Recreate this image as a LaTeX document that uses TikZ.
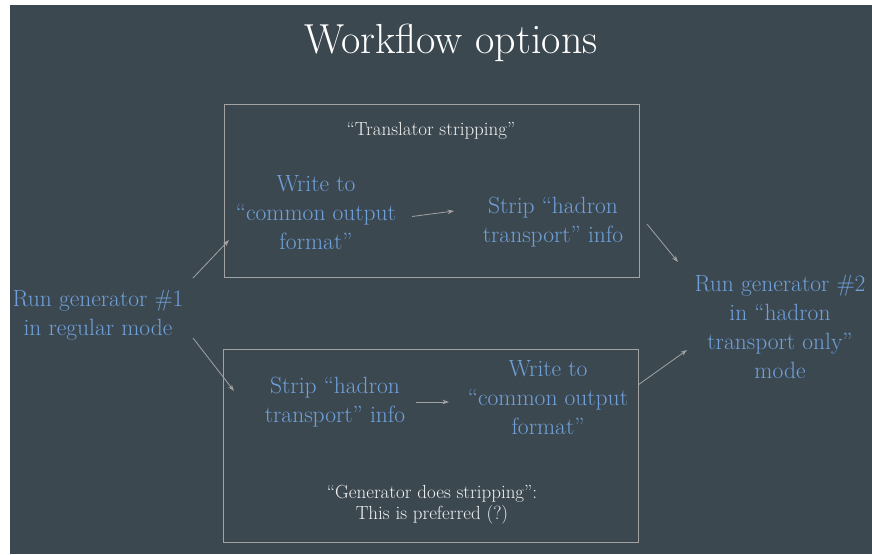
\documentclass[tikz,border=0pt]{standalone}
\usepackage{tikz}
\usetikzlibrary{arrows.meta}
\definecolor{slidebg}{HTML}{3C4850}
\definecolor{stepblue}{HTML}{70A0DA}
\definecolor{framegray}{HTML}{A2A2A2}
\definecolor{notewhite}{HTML}{F2F2F2}

\begin{document}
\begin{tikzpicture}[
  x=1pt, y=-1pt,
  title/.style ={text=white, font=\fontsize{42}{48}\selectfont},
  stepnode/.style={text=stepblue, align=center, inner sep=0pt,
                 font=\fontsize{23.5}{29}\selectfont},
  note/.style  ={text=notewhite, align=center, inner sep=0pt,
                 font=\fontsize{19}{21}\selectfont},
  frame/.style ={draw=framegray, line width=0.9pt, inner sep=0pt},
  arr/.style   ={-{Stealth[length=6.5pt,width=4.5pt]}, draw=framegray,
                 line width=0.8pt}
]

\useasboundingbox (0,0) rectangle (872,554);
\fill[slidebg] (10,5) rectangle (872,554);

\node[title] (head) at (451,43) {Workflow options};

% the two ways through
\node[frame, minimum width=415pt, minimum height=173pt] (topbox) at (431.5,190.5) {};
\node[frame, minimum width=415pt, minimum height=193pt] (botbox) at (430.5,445.5) {};

\node[note] (translator) at (431,131) {“Translator stripping”};
\node[note] (preferred)  at (432,505) {“Generator does stripping”:\\This is preferred (?)};

\node[stepnode] (run1) at (98,315) {Run generator \#1\\in regular mode};
\node[stepnode] (run2) at (780,327)
     {Run generator \#2\\in “hadron\\transport only”\\mode};

\node[stepnode] (write1) at (316,213) {Write to\\“common output\\format”};
\node[stepnode] (strip1) at (553,222) {Strip “hadron\\transport” info};

\node[stepnode] (strip2) at (335,402) {Strip “hadron\\transport” info};
\node[stepnode] (write2) at (548,398) {Write to\\“common output\\format”};

\draw[arr] ([shift={(95,-37)}]run1.center) -- ([shift={(-87,27)}]write1.center);
\draw[arr] ([shift={(96,3.5)}]write1.center) -- ([shift={(-99,-11)}]strip1.center);
\draw[arr] ([shift={(94,2)}]strip1.center) -- ([shift={(-102,-65)}]run2.center);

\draw[arr] ([shift={(95,23)}]run1.center) -- ([shift={(-101,-11)}]strip2.center);
\draw[arr] ([shift={(81,0)}]strip2.center) -- ([shift={(-99,4)}]write2.center);
\draw[arr] ([shift={(90,-13)}]write2.center) -- ([shift={(-93,23)}]run2.center);

\end{tikzpicture}
\end{document}
